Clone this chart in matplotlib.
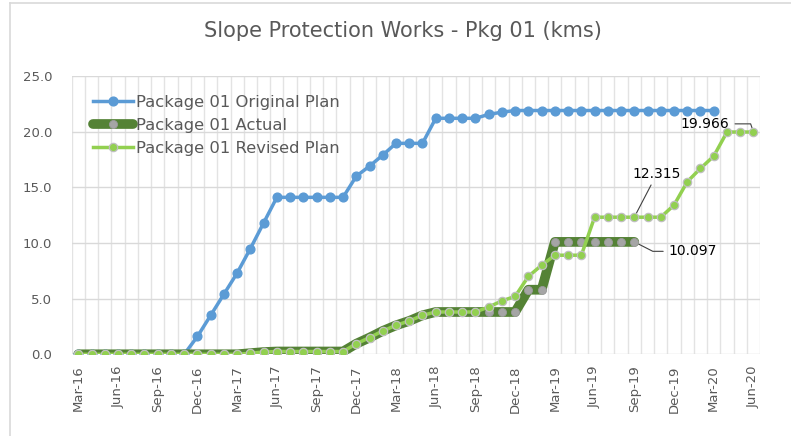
import matplotlib
matplotlib.use("Agg")
import matplotlib.pyplot as plt
import numpy as np
from matplotlib.lines import Line2D

months = ["Mar-16","Apr-16","May-16","Jun-16","Jul-16","Aug-16","Sep-16","Oct-16","Nov-16","Dec-16",
          "Jan-17","Feb-17","Mar-17","Apr-17","May-17","Jun-17","Jul-17","Aug-17","Sep-17","Oct-17",
          "Nov-17","Dec-17","Jan-18","Feb-18","Mar-18","Apr-18","May-18","Jun-18","Jul-18","Aug-18",
          "Sep-18","Oct-18","Nov-18","Dec-18","Jan-19","Feb-19","Mar-19","Apr-19","May-19","Jun-19",
          "Jul-19","Aug-19","Sep-19","Oct-19","Nov-19","Dec-19","Jan-20","Feb-20","Mar-20","Apr-20",
          "May-20","Jun-20"]

N = np.nan
original_plan = [0, 0, 0, 0, 0, 0, 0, 0, 0, 1.6,
                 3.5, 5.4, 7.3, 9.5, 11.8, 14.1, 14.1, 14.1, 14.1, 14.1,
                 14.1, 16.0, 16.9, 17.9, 18.95, 18.95, 18.95, 21.2, 21.2, 21.2,
                 21.2, 21.55, 21.75, 21.9, 21.9, 21.9, 21.9, 21.9, 21.9, 21.9,
                 21.9, 21.9, 21.9, 21.9, 21.9, 21.9, 21.9, 21.9, 21.9, N,
                 N, N]
actual = [0, 0, 0, 0, 0, 0, 0, 0, 0, 0,
          0, 0, 0, 0.1, 0.2, 0.25, 0.25, 0.25, 0.25, 0.25,
          0.25, 0.95, 1.5, 2.1, 2.6, 3.0, 3.5, 3.8, 3.8, 3.8,
          3.8, 3.8, 3.8, 3.8, 5.8, 5.8, 10.097, 10.097, 10.097, 10.097,
          10.097, 10.097, 10.097, N, N, N, N, N, N, N,
          N, N]
revised_plan = [0, 0, 0, 0, 0, 0, 0, 0, 0, 0,
                0, 0, 0, 0.1, 0.2, 0.25, 0.25, 0.25, 0.25, 0.25,
                0.25, 0.95, 1.5, 2.1, 2.6, 3.0, 3.5, 3.8, 3.8, 3.8,
                3.8, 4.25, 4.8, 5.2, 7.0, 8.0, 8.9, 8.9, 8.9, 12.315,
                12.315, 12.315, 12.315, 12.315, 12.315, 13.4, 15.5, 16.7, 17.8, 19.966,
                19.966, 19.966]

tick_labels = ["Mar-16","Jun-16","Sep-16","Dec-16","Mar-17","Jun-17","Sep-17","Dec-17","Mar-18",
               "Jun-18","Sep-18","Dec-18","Mar-19","Jun-19","Sep-19","Dec-19","Mar-20","Jun-20"]
y_ticks = [0, 5, 10, 15, 20, 25]

series_names = ["Package 01 Original Plan", "Package 01 Actual", "Package 01 Revised Plan"]
title = "Slope Protection Works - Pkg 01 (kms)"

plt.rcParams['font.family'] = ['DejaVu Sans']
TXT = "#595959"
GRID = "#D9D9D9"
BLUE = "#5B9BD5"
DGREEN = "#548235"
GRAY = "#A5A5A5"
LGREEN = "#92D050"

fig = plt.figure(figsize=(7.91, 4.36), dpi=100)
ax = fig.add_axes([0.0906, 0.1874, 0.8703, 0.6383])

x = np.arange(len(months))
ax.plot(x, original_plan, color=BLUE, lw=2.5, marker='o', ms=6.3, mfc=BLUE, mec=BLUE,
        solid_capstyle='round', zorder=3)
ax.plot(x, actual, color=DGREEN, lw=7, marker='o', ms=5.8, mfc=GRAY, mec="#9A9A9A", mew=0.6,
        solid_capstyle='round', solid_joinstyle='round', zorder=4)
ax.plot(x, revised_plan, color=LGREEN, lw=2.5, marker='o', ms=6.0, mfc=LGREEN, mec="#BFBFBF", mew=0.9,
        zorder=5)

ax.set_xlim(-0.5, len(months) - 0.5)
ax.set_ylim(0, 25)
tick_pos = [months.index(t) for t in tick_labels]
ax.set_xticks(tick_pos)
ax.set_xticklabels(tick_labels, rotation=90, fontsize=9.5, color=TXT)
ax.set_xticks(np.arange(-0.5, len(months), 1), minor=True)
ax.set_yticks(y_ticks)
ax.set_yticklabels([f"{v:.1f}" for v in y_ticks], fontsize=9.5, color=TXT)
ax.tick_params(axis='both', which='both', length=0)
ax.tick_params(axis='x', pad=8)
ax.tick_params(axis='y', pad=14)
ax.grid(True, which='major', axis='y', color=GRID, lw=1.0)
ax.grid(True, which='minor', axis='x', color="#E3E3E3", lw=1.0)
for s in ax.spines.values():
    s.set_visible(False)
ax.set_axisbelow(True)

fig.text(0.509, 0.93, title, ha='center', va='center', fontsize=15, color=TXT)

handles = [
    Line2D([], [], color=BLUE, lw=2.5, marker='o', ms=6.3, mfc=BLUE, mec=BLUE),
    Line2D([], [], color=DGREEN, lw=7, marker='o', ms=5.8, mfc=GRAY, mec="#9A9A9A", mew=0.6,
           solid_capstyle='round'),
    Line2D([], [], color=LGREEN, lw=2.5, marker='o', ms=6.0, mfc=LGREEN, mec="#BFBFBF", mew=0.9),
]
leg = fig.legend(handles, series_names, loc='upper left', bbox_to_anchor=(0.118, 0.783),
                 frameon=False, fontsize=11.8, handlelength=2.4, handletextpad=0.2,
                 labelspacing=0.5, borderpad=0, borderaxespad=0)
for t in leg.get_texts():
    t.set_color(TXT)

# data labels
i_rev = months.index("Sep-19")
ax.annotate(f"{revised_plan[i_rev]:.3f}", xy=(i_rev, revised_plan[i_rev]), xytext=(43.7, 16.2),
            ha='center', va='center', fontsize=10, color="#000000",
            arrowprops=dict(arrowstyle='-', color="#404040", lw=0.8, shrinkA=1, shrinkB=3))
i_act = months.index("Sep-19")
ax.annotate(f"{actual[i_act]:.3f}", xy=(i_act, actual[i_act]), xytext=(44.6, 9.25),
            ha='left', va='center', fontsize=10, color="#000000",
            arrowprops=dict(arrowstyle='-', color="#404040", lw=0.8, shrinkA=2, shrinkB=3,
                            connectionstyle="angle,angleA=0,angleB=-27,rad=0"))
i_end = months.index("Jun-20")
ax.annotate(f"{revised_plan[i_end]:.3f}", xy=(i_end, revised_plan[i_end]), xytext=(47.35, 20.7),
            ha='center', va='center', fontsize=10, color="#000000",
            arrowprops=dict(arrowstyle='-', color="#404040", lw=0.8, shrinkA=2, shrinkB=3,
                            connectionstyle="angle,angleA=0,angleB=-71,rad=0"))

# outer chart border (left and top visible)
fig.add_artist(Line2D([0.0126, 0.0126], [0.0, 0.993], transform=fig.transFigure, color=GRID, lw=1.2))
fig.add_artist(Line2D([0.0126, 1.0], [0.993, 0.993], transform=fig.transFigure, color=GRID, lw=1.2))

fig.savefig("out.png", dpi=100)
